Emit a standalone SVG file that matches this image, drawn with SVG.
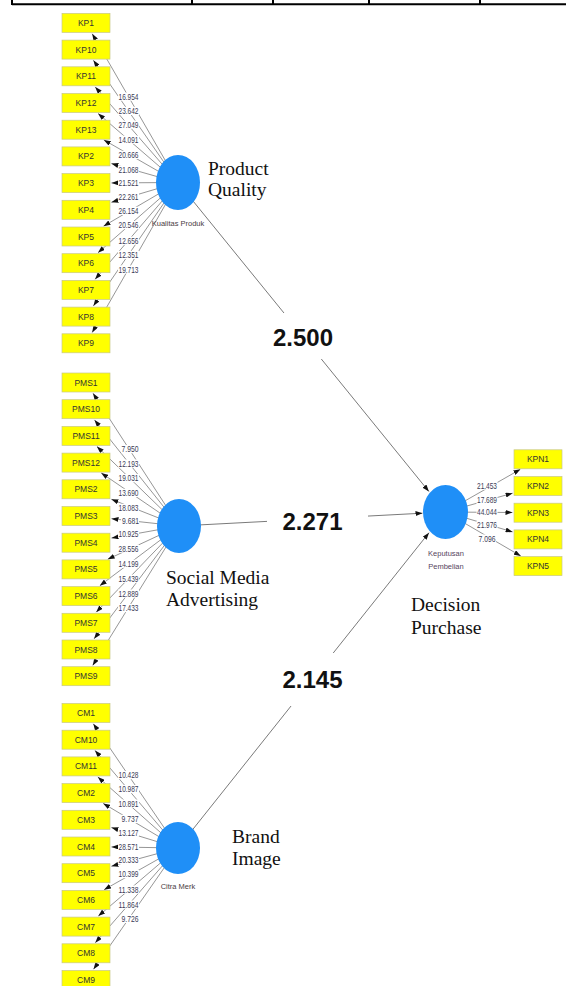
<svg xmlns="http://www.w3.org/2000/svg" width="566" height="986" viewBox="0 0 566 986">
<defs>
<marker id="ah" viewBox="0 0 7 5" refX="7" refY="2.5" markerWidth="7" markerHeight="5" markerUnits="userSpaceOnUse" orient="auto"><path d="M0,0 L7,2.5 L0,5 z" fill="#111"/></marker>
<style>
.box{fill:#ffff00;stroke:#c8c88a;stroke-width:0.7}
.bt{font-family:"Liberation Sans",Arial,sans-serif;font-size:8.5px;fill:#333;text-anchor:middle}
.lv{fill:#1f8ff7}
.lt{font-family:"Liberation Sans",Arial,sans-serif;font-size:7.5px;fill:#4a3c44;text-anchor:middle}
.ser{font-family:"Liberation Serif","Times New Roman",serif;font-size:19.5px;fill:#111}
.ol{stroke:#8a8a8a;stroke-width:0.9;fill:none;marker-end:url(#ah)}
.sl{stroke:#7a7a7a;stroke-width:1;fill:none;marker-end:url(#ah)}
.nb{fill:#fff}
.nt{font-family:"Liberation Sans",Arial,sans-serif;font-size:8.6px;fill:#3a3a55;text-anchor:middle}
.pc{font-family:"Liberation Sans",Arial,sans-serif;font-size:24px;font-weight:bold;fill:#111;text-anchor:middle}
</style>
</defs>
<rect width="566" height="986" fill="#fff"/>
<path d="M12,4.3 H566 M12,0 V5 M192,0 V5 M273,0 V5 M369,0 V5 M480,0 V5" stroke="#000" stroke-width="2" fill="none"/>

<g id="connectors">
<line class="ol" x1="178" y1="182.5" x2="92.2" y2="33.7"/>
<line class="ol" x1="178" y1="182.5" x2="93.4" y2="60.3"/>
<line class="ol" x1="178" y1="182.5" x2="95.2" y2="86.9"/>
<line class="ol" x1="178" y1="182.5" x2="98.1" y2="113.5"/>
<line class="ol" x1="178" y1="182.5" x2="103.8" y2="139.9"/>
<line class="ol" x1="178" y1="182.5" x2="111.4" y2="163.6"/>
<line class="ol" x1="178" y1="182.5" x2="111.5" y2="182.9"/>
<line class="ol" x1="178" y1="182.5" x2="111.4" y2="202.3"/>
<line class="ol" x1="178" y1="182.5" x2="103.5" y2="226.2"/>
<line class="ol" x1="178" y1="182.5" x2="98.0" y2="252.7"/>
<line class="ol" x1="178" y1="182.5" x2="95.1" y2="279.3"/>
<line class="ol" x1="178" y1="182.5" x2="93.4" y2="305.9"/>
<line class="ol" x1="178" y1="182.5" x2="92.2" y2="332.5"/>
<line class="ol" x1="179" y1="526" x2="93.0" y2="393.3"/>
<line class="ol" x1="179" y1="526" x2="94.5" y2="419.9"/>
<line class="ol" x1="179" y1="526" x2="96.9" y2="446.4"/>
<line class="ol" x1="179" y1="526" x2="101.2" y2="472.9"/>
<line class="ol" x1="179" y1="526" x2="111.4" y2="499.3"/>
<line class="ol" x1="179" y1="526" x2="111.5" y2="518.7"/>
<line class="ol" x1="179" y1="526" x2="111.5" y2="538.1"/>
<line class="ol" x1="179" y1="526" x2="107.7" y2="559.3"/>
<line class="ol" x1="179" y1="526" x2="99.8" y2="585.7"/>
<line class="ol" x1="179" y1="526" x2="96.2" y2="612.2"/>
<line class="ol" x1="179" y1="526" x2="94.1" y2="638.8"/>
<line class="ol" x1="179" y1="526" x2="92.7" y2="665.4"/>
<line class="ol" x1="178" y1="848" x2="93.3" y2="723.7"/>
<line class="ol" x1="178" y1="848" x2="95.0" y2="750.4"/>
<line class="ol" x1="178" y1="848" x2="97.8" y2="776.9"/>
<line class="ol" x1="178" y1="848" x2="103.2" y2="803.4"/>
<line class="ol" x1="178" y1="848" x2="111.4" y2="827.6"/>
<line class="ol" x1="178" y1="848" x2="111.5" y2="846.9"/>
<line class="ol" x1="178" y1="848" x2="111.4" y2="866.2"/>
<line class="ol" x1="178" y1="848" x2="104.1" y2="889.7"/>
<line class="ol" x1="178" y1="848" x2="98.3" y2="916.1"/>
<line class="ol" x1="178" y1="848" x2="95.3" y2="942.7"/>
<line class="ol" x1="178" y1="848" x2="93.5" y2="969.3"/>
<line class="ol" x1="445.5" y1="512" x2="520.4" y2="469.3"/>
<line class="ol" x1="445.5" y1="512" x2="512.6" y2="493.2"/>
<line class="ol" x1="445.5" y1="512" x2="512.5" y2="512.5"/>
<line class="ol" x1="445.5" y1="512" x2="512.6" y2="531.9"/>
<line class="ol" x1="445.5" y1="512" x2="520.8" y2="556.0"/>
<line class="sl" x1="178" y1="182.5" x2="428.9" y2="491.5"/>
<line class="sl" x1="179" y1="526" x2="422.5" y2="513.2"/>
<line class="sl" x1="178" y1="848" x2="429" y2="532.7"/>
</g>

<g id="path-labels">
<rect class="nb" x="266" y="313" width="74" height="46"/>
<text class="pc" x="303" y="345.5">2.500</text>
<rect class="nb" x="267" y="505" width="101" height="35"/>
<text class="pc" x="312.5" y="529.8">2.271</text>
<rect class="nb" x="275" y="653" width="75" height="53"/>
<text class="pc" x="312.5" y="687.8">2.145</text>
</g>

<g id="lv-kp">
<ellipse class="lv" cx="178" cy="182.5" rx="22" ry="27.5"/>
<text class="lt" x="178" y="225.5">Kualitas Produk</text>
<text class="ser" x="208" y="174.5">Product</text>
<text class="ser" x="208" y="196">Quality</text>
</g>
<g id="lv-pms">
<ellipse class="lv" cx="179" cy="526" rx="22" ry="27"/>
<text class="ser" x="166" y="584.3">Social Media</text>
<text class="ser" x="166" y="606.3">Advertising</text>
</g>
<g id="lv-cm">
<ellipse class="lv" cx="178" cy="848" rx="22" ry="26"/>
<text class="lt" x="178" y="889.3">Citra Merk</text>
<text class="ser" x="232" y="843">Brand</text>
<text class="ser" x="232" y="865">Image</text>
</g>
<g id="lv-kpn">
<ellipse class="lv" cx="445.5" cy="512" rx="22.5" ry="27"/>
<text class="lt" x="446" y="555.6" style="fill:#56455e">Keputusan</text>
<text class="lt" x="446" y="568.6" style="fill:#56455e">Pembelian</text>
<text class="ser" x="411" y="610.5">Decision</text>
<text class="ser" x="411" y="633.5">Purchase</text>
</g>

<g id="ind-kp">
<g id="KP1"><rect class="box" x="62" y="13.4" width="48" height="19"/><text class="bt" x="86" y="25.9">KP1</text></g>
<g id="KP10"><rect class="box" x="62" y="40.1" width="48" height="19"/><text class="bt" x="86" y="52.6">KP10</text></g>
<g id="KP11"><rect class="box" x="62" y="66.8" width="48" height="19"/><text class="bt" x="86" y="79.3">KP11</text></g>
<g id="KP12"><rect class="box" x="62" y="93.5" width="48" height="19"/><text class="bt" x="86" y="106">KP12</text></g>
<g id="KP13"><rect class="box" x="62" y="120.2" width="48" height="19"/><text class="bt" x="86" y="132.7">KP13</text></g>
<g id="KP2"><rect class="box" x="62" y="146.9" width="48" height="19"/><text class="bt" x="86" y="159.4">KP2</text></g>
<g id="KP3"><rect class="box" x="62" y="173.6" width="48" height="19"/><text class="bt" x="86" y="186.1">KP3</text></g>
<g id="KP4"><rect class="box" x="62" y="200.3" width="48" height="19"/><text class="bt" x="86" y="212.8">KP4</text></g>
<g id="KP5"><rect class="box" x="62" y="227" width="48" height="19"/><text class="bt" x="86" y="239.5">KP5</text></g>
<g id="KP6"><rect class="box" x="62" y="253.7" width="48" height="19"/><text class="bt" x="86" y="266.2">KP6</text></g>
<g id="KP7"><rect class="box" x="62" y="280.4" width="48" height="19"/><text class="bt" x="86" y="292.9">KP7</text></g>
<g id="KP8"><rect class="box" x="62" y="307.1" width="48" height="19"/><text class="bt" x="86" y="319.6">KP8</text></g>
<g id="KP9"><rect class="box" x="62" y="333.8" width="48" height="19"/><text class="bt" x="86" y="346.3">KP9</text></g>
</g>

<g id="ind-pms">
<g id="PMS1"><rect class="box" x="62" y="373" width="48" height="19"/><text class="bt" x="86" y="385.5">PMS1</text></g>
<g id="PMS10"><rect class="box" x="62" y="399.7" width="48" height="19"/><text class="bt" x="86" y="412.2">PMS10</text></g>
<g id="PMS11"><rect class="box" x="62" y="426.4" width="48" height="19"/><text class="bt" x="86" y="438.9">PMS11</text></g>
<g id="PMS12"><rect class="box" x="62" y="453.1" width="48" height="19"/><text class="bt" x="86" y="465.6">PMS12</text></g>
<g id="PMS2"><rect class="box" x="62" y="479.8" width="48" height="19"/><text class="bt" x="86" y="492.3">PMS2</text></g>
<g id="PMS3"><rect class="box" x="62" y="506.5" width="48" height="19"/><text class="bt" x="86" y="519">PMS3</text></g>
<g id="PMS4"><rect class="box" x="62" y="533.2" width="48" height="19"/><text class="bt" x="86" y="545.7">PMS4</text></g>
<g id="PMS5"><rect class="box" x="62" y="559.9" width="48" height="19"/><text class="bt" x="86" y="572.4">PMS5</text></g>
<g id="PMS6"><rect class="box" x="62" y="586.6" width="48" height="19"/><text class="bt" x="86" y="599.1">PMS6</text></g>
<g id="PMS7"><rect class="box" x="62" y="613.3" width="48" height="19"/><text class="bt" x="86" y="625.8">PMS7</text></g>
<g id="PMS8"><rect class="box" x="62" y="640" width="48" height="19"/><text class="bt" x="86" y="652.5">PMS8</text></g>
<g id="PMS9"><rect class="box" x="62" y="666.7" width="48" height="19"/><text class="bt" x="86" y="679.2">PMS9</text></g>
</g>

<g id="ind-cm">
<g id="CM1"><rect class="box" x="62" y="703.5" width="48" height="19"/><text class="bt" x="86" y="716">CM1</text></g>
<g id="CM10"><rect class="box" x="62" y="730.2" width="48" height="19"/><text class="bt" x="86" y="742.7">CM10</text></g>
<g id="CM11"><rect class="box" x="62" y="756.9" width="48" height="19"/><text class="bt" x="86" y="769.4">CM11</text></g>
<g id="CM2"><rect class="box" x="62" y="783.6" width="48" height="19"/><text class="bt" x="86" y="796.1">CM2</text></g>
<g id="CM3"><rect class="box" x="62" y="810.3" width="48" height="19"/><text class="bt" x="86" y="822.8">CM3</text></g>
<g id="CM4"><rect class="box" x="62" y="837" width="48" height="19"/><text class="bt" x="86" y="849.5">CM4</text></g>
<g id="CM5"><rect class="box" x="62" y="863.7" width="48" height="19"/><text class="bt" x="86" y="876.2">CM5</text></g>
<g id="CM6"><rect class="box" x="62" y="890.4" width="48" height="19"/><text class="bt" x="86" y="902.9">CM6</text></g>
<g id="CM7"><rect class="box" x="62" y="917.1" width="48" height="19"/><text class="bt" x="86" y="929.6">CM7</text></g>
<g id="CM8"><rect class="box" x="62" y="943.8" width="48" height="19"/><text class="bt" x="86" y="956.3">CM8</text></g>
<g id="CM9"><rect class="box" x="62" y="970.5" width="48" height="19"/><text class="bt" x="86" y="983">CM9</text></g>
</g>

<g id="ind-kpn">
<g id="KPN1"><rect class="box" x="514" y="449.8" width="48" height="19"/><text class="bt" x="538" y="462.3">KPN1</text></g>
<g id="KPN2"><rect class="box" x="514" y="476.5" width="48" height="19"/><text class="bt" x="538" y="489">KPN2</text></g>
<g id="KPN3"><rect class="box" x="514" y="503.2" width="48" height="19"/><text class="bt" x="538" y="515.7">KPN3</text></g>
<g id="KPN4"><rect class="box" x="514" y="529.9" width="48" height="19"/><text class="bt" x="538" y="542.4">KPN4</text></g>
<g id="KPN5"><rect class="box" x="514" y="556.6" width="48" height="19"/><text class="bt" x="538" y="569.1">KPN5</text></g>
</g>

<g id="loading-labels">
<rect class="nb" x="118" y="92.5" width="21" height="8.2"/><text class="nt" x="128.5" y="99.6" textLength="20" lengthAdjust="spacingAndGlyphs">16.954</text>
<rect class="nb" x="118" y="106.8" width="21" height="8.2"/><text class="nt" x="128.5" y="113.9" textLength="20" lengthAdjust="spacingAndGlyphs">23.642</text>
<rect class="nb" x="118" y="120.6" width="21" height="8.2"/><text class="nt" x="128.5" y="127.7" textLength="20" lengthAdjust="spacingAndGlyphs">27.049</text>
<rect class="nb" x="118" y="135.6" width="21" height="8.2"/><text class="nt" x="128.5" y="142.7" textLength="20" lengthAdjust="spacingAndGlyphs">14.091</text>
<rect class="nb" x="118" y="150.8" width="21" height="8.2"/><text class="nt" x="128.5" y="157.9" textLength="20" lengthAdjust="spacingAndGlyphs">20.666</text>
<rect class="nb" x="118" y="165.5" width="21" height="8.2"/><text class="nt" x="128.5" y="172.6" textLength="20" lengthAdjust="spacingAndGlyphs">21.068</text>
<rect class="nb" x="118" y="179" width="21" height="8.2"/><text class="nt" x="128.5" y="186.1" textLength="20" lengthAdjust="spacingAndGlyphs">21.521</text>
<rect class="nb" x="118" y="192.6" width="21" height="8.2"/><text class="nt" x="128.5" y="199.7" textLength="20" lengthAdjust="spacingAndGlyphs">22.261</text>
<rect class="nb" x="118" y="206.8" width="21" height="8.2"/><text class="nt" x="128.5" y="213.9" textLength="20" lengthAdjust="spacingAndGlyphs">26.154</text>
<rect class="nb" x="118" y="221" width="21" height="8.2"/><text class="nt" x="128.5" y="228.1" textLength="20" lengthAdjust="spacingAndGlyphs">20.546</text>
<rect class="nb" x="118" y="236.6" width="21" height="8.2"/><text class="nt" x="128.5" y="243.7" textLength="20" lengthAdjust="spacingAndGlyphs">12.656</text>
<rect class="nb" x="118" y="250.8" width="21" height="8.2"/><text class="nt" x="128.5" y="257.9" textLength="20" lengthAdjust="spacingAndGlyphs">12.351</text>
<rect class="nb" x="118" y="265.4" width="21" height="8.2"/><text class="nt" x="128.5" y="272.5" textLength="20" lengthAdjust="spacingAndGlyphs">19.713</text>

<rect class="nb" x="121" y="445" width="18" height="8.2"/><text class="nt" x="130" y="452.1" textLength="17" lengthAdjust="spacingAndGlyphs">7.950</text>
<rect class="nb" x="118" y="459.5" width="21" height="8.2"/><text class="nt" x="128.5" y="466.6" textLength="20" lengthAdjust="spacingAndGlyphs">12.193</text>
<rect class="nb" x="118" y="474" width="21" height="8.2"/><text class="nt" x="128.5" y="481.1" textLength="20" lengthAdjust="spacingAndGlyphs">19.031</text>
<rect class="nb" x="118" y="488.8" width="21" height="8.2"/><text class="nt" x="128.5" y="495.9" textLength="20" lengthAdjust="spacingAndGlyphs">13.690</text>
<rect class="nb" x="118" y="503.8" width="21" height="8.2"/><text class="nt" x="128.5" y="510.9" textLength="20" lengthAdjust="spacingAndGlyphs">18.083</text>
<rect class="nb" x="121" y="516.6" width="18" height="8.2"/><text class="nt" x="130.5" y="523.7" textLength="17" lengthAdjust="spacingAndGlyphs">9.681</text>
<rect class="nb" x="118" y="529.5" width="21" height="8.2"/><text class="nt" x="128.5" y="536.6" textLength="20" lengthAdjust="spacingAndGlyphs">10.925</text>
<rect class="nb" x="118" y="544.5" width="21" height="8.2"/><text class="nt" x="128.5" y="551.6" textLength="20" lengthAdjust="spacingAndGlyphs">28.556</text>
<rect class="nb" x="118" y="559.6" width="21" height="8.2"/><text class="nt" x="128.5" y="566.7" textLength="20" lengthAdjust="spacingAndGlyphs">14.199</text>
<rect class="nb" x="118" y="574.6" width="21" height="8.2"/><text class="nt" x="128.5" y="581.7" textLength="20" lengthAdjust="spacingAndGlyphs">15.439</text>
<rect class="nb" x="118" y="589.5" width="21" height="8.2"/><text class="nt" x="128.5" y="596.6" textLength="20" lengthAdjust="spacingAndGlyphs">12.889</text>
<rect class="nb" x="118" y="604" width="21" height="8.2"/><text class="nt" x="128.5" y="611.1" textLength="20" lengthAdjust="spacingAndGlyphs">17.433</text>

<rect class="nb" x="118" y="771" width="21" height="8.2"/><text class="nt" x="128.5" y="778.1" textLength="20" lengthAdjust="spacingAndGlyphs">10.428</text>
<rect class="nb" x="118" y="785" width="21" height="8.2"/><text class="nt" x="128.5" y="792.1" textLength="20" lengthAdjust="spacingAndGlyphs">10.987</text>
<rect class="nb" x="118" y="799.5" width="21" height="8.2"/><text class="nt" x="128.5" y="806.6" textLength="20" lengthAdjust="spacingAndGlyphs">10.891</text>
<rect class="nb" x="121" y="814.8" width="18" height="8.2"/><text class="nt" x="130" y="821.9" textLength="17" lengthAdjust="spacingAndGlyphs">9.737</text>
<rect class="nb" x="118" y="828.5" width="21" height="8.2"/><text class="nt" x="128.5" y="835.6" textLength="20" lengthAdjust="spacingAndGlyphs">13.127</text>
<rect class="nb" x="118" y="842.5" width="21" height="8.2"/><text class="nt" x="128.5" y="849.6" textLength="20" lengthAdjust="spacingAndGlyphs">28.571</text>
<rect class="nb" x="118" y="856" width="21" height="8.2"/><text class="nt" x="128.5" y="863.1" textLength="20" lengthAdjust="spacingAndGlyphs">20.333</text>
<rect class="nb" x="118" y="870" width="21" height="8.2"/><text class="nt" x="128.5" y="877.1" textLength="20" lengthAdjust="spacingAndGlyphs">10.399</text>
<rect class="nb" x="118" y="885.5" width="21" height="8.2"/><text class="nt" x="128.5" y="892.6" textLength="20" lengthAdjust="spacingAndGlyphs">11.338</text>
<rect class="nb" x="118" y="900.5" width="21" height="8.2"/><text class="nt" x="128.5" y="907.6" textLength="20" lengthAdjust="spacingAndGlyphs">11.864</text>
<rect class="nb" x="121" y="914.8" width="18" height="8.2"/><text class="nt" x="130" y="921.9" textLength="17" lengthAdjust="spacingAndGlyphs">9.726</text>

<rect class="nb" x="476.5" y="481.5" width="21" height="8.2"/><text class="nt" x="487" y="488.6" textLength="20" lengthAdjust="spacingAndGlyphs">21.453</text>
<rect class="nb" x="476.5" y="496" width="21" height="8.2"/><text class="nt" x="487" y="503.1" textLength="20" lengthAdjust="spacingAndGlyphs">17.689</text>
<rect class="nb" x="476.5" y="508.3" width="21" height="8.2"/><text class="nt" x="487" y="515.4" textLength="20" lengthAdjust="spacingAndGlyphs">44.044</text>
<rect class="nb" x="476.5" y="521" width="21" height="8.2"/><text class="nt" x="487" y="528.1" textLength="20" lengthAdjust="spacingAndGlyphs">21.976</text>
<rect class="nb" x="478" y="534.5" width="18" height="8.2"/><text class="nt" x="487" y="541.6" textLength="17" lengthAdjust="spacingAndGlyphs">7.096</text>
</g>
</svg>
